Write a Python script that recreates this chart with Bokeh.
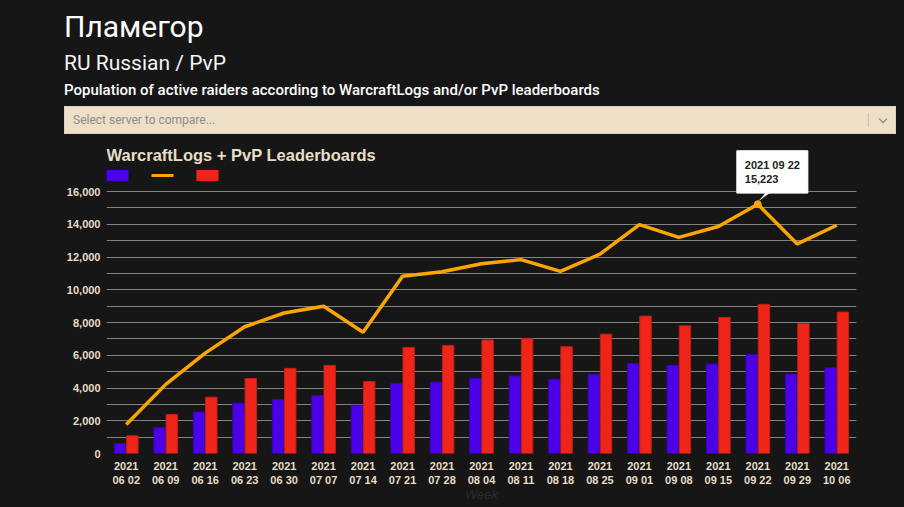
from bokeh.plotting import figure
from bokeh.layouts import column
from bokeh.models import (ColumnDataSource, FactorRange, Range1d, SingleIntervalTicker,
                          NumeralTickFormatter, Label, BoxAnnotation, PolyAnnotation,
                          CategoricalAxis, Div, CustomJSTickFormatter)
from bokeh.transform import dodge
from bokeh.embed import file_html
from bokeh.resources import INLINE

# ---------------- data ----------------
weeks = ["2021 06 02", "2021 06 09", "2021 06 16", "2021 06 23", "2021 06 30",
         "2021 07 07", "2021 07 14", "2021 07 21", "2021 07 28", "2021 08 04",
         "2021 08 11", "2021 08 18", "2021 08 25", "2021 09 01", "2021 09 08",
         "2021 09 15", "2021 09 22", "2021 09 29", "2021 10 06"]
warcraftlogs = [610, 1570, 2530, 3080, 3300, 3545, 2950, 4280, 4360, 4580,
                4730, 4540, 4830, 5500, 5380, 5460, 6050, 4850, 5240]
pvp_leaderboards = [1080, 2380, 3440, 4580, 5200, 5380, 4400, 6480, 6600, 6930,
                    7030, 6520, 7290, 8390, 7800, 8310, 9110, 7930, 8640]
combined = [1770, 4220, 6130, 7740, 8580, 8990, 7400, 10820, 11100, 11590,
            11840, 11120, 12170, 13980, 13200, 13860, 15223, 12800, 13940]
y_max = 16000
y_tick_step = 2000

server_name = "Пламегор"
region_line = "RU Russian / PvP"
description = "Population of active raiders according to WarcraftLogs and/or PvP leaderboards"
chart_title = "WarcraftLogs + PvP Leaderboards"
select_placeholder = "Select server to compare..."
x_title = "Week"

# ---------------- styling / layout ----------------
BG = "#161616"
BEIGE = "#E8DDC5"
BLUE = "#4B00E8"
RED = "#F0251A"
ORANGE = "#FFA500"
GRID = "#828282"
AX_FONT = "Liberation Sans"

PAGE_W = 904
HEAD_H = 140
FIG_H = 507 - HEAD_H
F_LEFT, F_RIGHT, F_BOTTOM = 106, 856, 453      # frame edges on the page
Y16_PX = 191                                     # page y of the y_max gridline
px_per_unit = (F_BOTTOM - Y16_PX) / y_max
frame_h = F_BOTTOM - HEAD_H
y_top = frame_h / px_per_unit
band_px = (F_RIGHT - F_LEFT) / len(weeks)

def x_at(page_x):
    return (page_x - F_LEFT) / band_px

def y_at(page_y):
    return (F_BOTTOM - page_y) / px_per_unit

# ---------------- header ----------------
head_html = f"""
<div style="position:relative;width:{PAGE_W}px;height:{HEAD_H}px;background:{BG};font-family:Roboto;">
  <div style="position:absolute;left:64px;top:12px;font-size:30px;line-height:1;color:#FFFFFF;white-space:nowrap;">{server_name}</div>
  <div style="position:absolute;left:64px;top:53px;font-size:21px;line-height:1;color:#F4F4F4;white-space:nowrap;">{region_line}</div>
  <div style="position:absolute;left:64px;top:83px;font-size:15px;font-weight:500;line-height:1;color:#FFFFFF;white-space:nowrap;">{description}</div>
  <div style="position:absolute;left:64px;top:106px;width:832px;height:28px;box-sizing:border-box;background:#EDE0C6;border:1px solid #DAD2C2;"></div>
  <div style="position:absolute;left:73px;top:114px;font-size:12px;line-height:12px;color:#8C8C8C;white-space:nowrap;">{select_placeholder}</div>
  <div style="position:absolute;left:868px;top:113px;width:1px;height:14px;background:#C9C1B3;"></div>
  <svg style="position:absolute;left:878px;top:117px;" width="10" height="7">
    <polyline points="1,1.5 5,5.5 9,1.5" fill="none" stroke="#9A9A9A" stroke-width="1.6"/>
  </svg>
</div>
"""
header = Div(text=head_html, width=PAGE_W, height=HEAD_H, margin=0,
             styles={"background": BG})

# ---------------- chart ----------------
source = ColumnDataSource(dict(week=weeks, wl=warcraftlogs, pvp=pvp_leaderboards, total=combined))

p = figure(width=PAGE_W, height=FIG_H, x_range=FactorRange(*weeks, range_padding=0),
           y_range=Range1d(0, y_top), output_backend="svg", toolbar_location=None,
           min_border_left=F_LEFT, min_border_right=PAGE_W - F_RIGHT, min_border_top=0,
           min_border_bottom=507 - F_BOTTOM, margin=0,
           background_fill_color=BG, border_fill_color=BG, outline_line_color=None)

p.vbar(x=dodge("week", -0.155, range=p.x_range), top="wl", width=0.29, source=source,
       fill_color=BLUE, line_color="#3A00B8", line_width=1)
p.vbar(x=dodge("week", 0.155, range=p.x_range), top="pvp", width=0.29, source=source,
       fill_color=RED, line_color="#C01F15", line_width=1)
p.line(x="week", y="total", source=source, line_color=ORANGE, line_width=3.5)

# x axes: year on the first row, month/day on the second
ax1 = p.xaxis[0]
ax1.formatter = CustomJSTickFormatter(code="return String(tick).split(' ')[0];")
ax1.major_label_standoff = 8
ax2 = CategoricalAxis(formatter=CustomJSTickFormatter(code="return String(tick).split(' ').slice(1).join(' ');"),
                      major_label_standoff=1, axis_label=x_title,
                      axis_label_text_font=AX_FONT, axis_label_text_font_size="13px",
                      axis_label_text_font_style="italic", axis_label_text_color="#2A2A2A",
                      axis_label_standoff=-2)
p.add_layout(ax2, "below")
for ax in (ax1, ax2, p.yaxis[0]):
    ax.axis_line_color = None
    ax.major_tick_line_color = None
    ax.minor_tick_line_color = None
    ax.major_tick_out = 0
    ax.major_tick_in = 0
    ax.major_label_text_font = AX_FONT
    ax.major_label_text_font_style = "bold"
    ax.major_label_text_font_size = "11px"
    ax.major_label_text_color = BEIGE
p.yaxis.major_label_standoff = 2
p.yaxis.ticker = SingleIntervalTicker(interval=y_tick_step, num_minor_ticks=2)
p.yaxis.formatter = NumeralTickFormatter(format="0,0")
p.yaxis.bounds = (0, y_max)
p.xgrid.grid_line_color = None
p.ygrid.bounds = (0, y_max)
p.ygrid.grid_line_color = GRID
p.ygrid.minor_grid_line_color = GRID
p.ygrid.grid_line_width = 1

# chart title + legend swatches
p.add_layout(Label(x=x_at(106), y=y_at(154), text=chart_title,
                   text_font=AX_FONT, text_font_size="16.5px", text_font_style="bold",
                   text_color=BEIGE, text_baseline="alphabetic", text_align="left"))

def swatch(l, r, t, b, fill, line=None):
    p.add_layout(BoxAnnotation(left=x_at(l), right=x_at(r), top=y_at(t), bottom=y_at(b),
                               fill_color=fill, fill_alpha=1, line_color=line, line_width=1))

swatch(106, 128, 169.5, 180.5, BLUE, "#3A00B8")
swatch(151, 173, 173.5, 176.5, ORANGE)
swatch(196, 218, 169.5, 180.5, RED, "#C01F15")

# tooltip on the peak of the combined series
i = combined.index(max(combined))
px = i + 0.5
p.scatter([weeks[i]], [combined[i]], size=7, fill_color=ORANGE, line_color=ORANGE)
p.add_layout(PolyAnnotation(xs=[px + 0.5 / band_px, px + 10 / band_px, px + 16 / band_px],
                            ys=[combined[i] + 3 / px_per_unit, combined[i] + 14 / px_per_unit,
                                combined[i] + 14 / px_per_unit],
                            fill_color="#FFFFFF", fill_alpha=1, line_color=None))
p.add_layout(Label(x=px, y=combined[i], x_offset=-21, y_offset=53.5,
                   text=f"{weeks[i]}\n{combined[i]:,}",
                   text_font=AX_FONT, text_font_size="11px", text_font_style="bold",
                   text_color="#222222", text_baseline="top", text_align="left",
                   background_fill_color="#FFFFFF", background_fill_alpha=1,
                   border_line_color="#FFFFFF", padding=8, text_line_height=1.2))

layout = column(header, p, spacing=0, margin=0)
html = file_html(layout, INLINE)
html = html.replace("<head>", f"<head><style>html,body{{background:{BG};margin:0;}}</style>", 1)
open("out.html", "w").write(html)
